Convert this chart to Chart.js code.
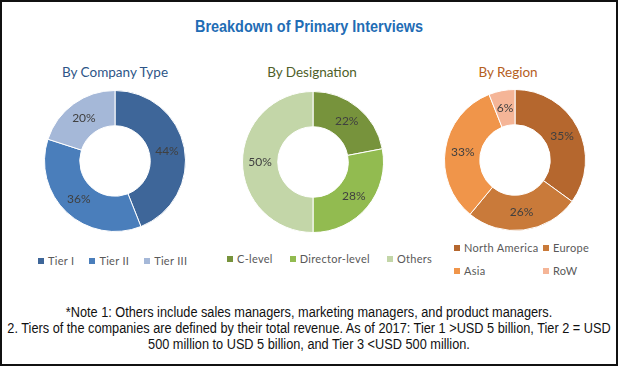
<!DOCTYPE html>
<html>
<head>
<meta charset="utf-8">
<script src="https://cdn.jsdelivr.net/npm/chart.js@4.4.1/dist/chart.umd.min.js"></script>
<style>
  body { margin: 0; background: #fff; }
  #frame {
    position: relative; width: 618px; height: 366px; box-sizing: border-box;
    border: 2px solid #111; background: #fff; overflow: hidden;
    font-family: "Lato", "Open Sans", sans-serif;
  }
  #title {
    position: absolute; left: -200px; width: 1014px; top: 15px; text-align: center;
    font-family: "Liberation Sans", Arial, sans-serif; white-space: nowrap;
    font-weight: bold; font-size: 17px; color: #1f6db5;
    transform: scaleX(0.85); transform-origin: 507px 0;
  }
  .sub { position: absolute; top: 62px; width: 200px; text-align: center; font-size: 13.5px; }
  canvas { position: absolute; }
  .legend { position: absolute; display: flex; font-size: 11px; color: #595959; letter-spacing: 0.3px; }
  .legend .item { display: flex; align-items: center; white-space: nowrap; }
  .legend .box { width: 6px; height: 6px; margin-right: 4px; }
  #notes {
    position: absolute; left: -200px; width: 1014px; top: 302px; text-align: center;
    font-family: "Liberation Sans", Arial, sans-serif; white-space: nowrap;
    font-size: 14px; line-height: 16px; color: #111;
    transform: scaleX(0.91); transform-origin: 507px 0;
  }
</style>
</head>
<body>
<div id="frame">
  <div id="title">Breakdown of Primary Interviews</div>
  <div class="sub" style="left:13px;color:#2d5587">By Company Type</div>
  <div class="sub" style="left:210px;color:#4f5f2a">By Designation</div>
  <div class="sub" style="left:406px;color:#b5601e">By Region</div>
  <canvas id="company" width="150" height="150" style="left:38px;top:84px"></canvas>
  <canvas id="designation" width="150" height="150" style="left:236px;top:85px"></canvas>
  <canvas id="region" width="150" height="150" style="left:438px;top:83px"></canvas>
  <div class="legend" id="legCompany" style="left:36px;top:252px;gap:15px"></div>
  <div class="legend" id="legDesignation" style="left:225px;top:250px;gap:17px"></div>
  <div class="legend" id="legRegion" style="left:452px;top:239px;display:grid;grid-template-columns:89px 60px;row-gap:10px"></div>
  <div id="notes">*Note 1: Others include sales managers, marketing managers, and product managers.<br>2. Tiers of the companies are defined by their total revenue. As of 2017: Tier 1 &gt;USD 5 billion, Tier 2 = USD<br>500 million to USD 5 billion, and Tier 3 &lt;USD 500 million.</div>
</div>
<script>
const companyLabels = ["Tier I", "Tier II", "Tier III"];
const companyValues = [44, 36, 20];
const designationLabels = ["C-level", "Director-level", "Others"];
const designationValues = [22, 28, 50];
const regionLabels = ["North America", "Europe", "Asia", "RoW"];
const regionValues = [35, 26, 33, 6];

const companyColors = ["#3e6699", "#4a7ebb", "#a5b8d8"];
const designationColors = ["#77933c", "#92bb50", "#c3d6a8"];
const regionColors = ["#b5672e", "#c97a3a", "#f0954a", "#f5b597"];

// draws "44%" etc. in the middle of each ring segment
const sliceLabels = {
  id: "sliceLabels",
  afterDatasetsDraw(chart) {
    const ctx = chart.ctx;
    const values = chart.data.datasets[0].data;
    ctx.save();
    ctx.font = "12px Lato, 'Open Sans', sans-serif";
    ctx.fillStyle = "#404040";
    ctx.textAlign = "center";
    ctx.textBaseline = "middle";
    chart.getDatasetMeta(0).data.forEach((arc, i) => {
      const p = arc.tooltipPosition();
      ctx.fillText(values[i] + "%", p.x, p.y);
    });
    ctx.restore();
  }
};

function makeDonut(id, labels, values, colors) {
  return new Chart(document.getElementById(id).getContext("2d"), {
    type: "doughnut",
    data: {
      labels: labels,
      datasets: [{
        data: values,
        backgroundColor: colors,
        borderColor: "#fff",
        borderWidth: 1
      }]
    },
    options: {
      responsive: false,
      animation: false,
      cutout: "50%",
      layout: { padding: 4 },
      plugins: {
        legend: { display: false },
        tooltip: { enabled: false }
      }
    },
    plugins: [sliceLabels]
  });
}

function makeLegend(id, labels, colors) {
  const el = document.getElementById(id);
  labels.forEach((label, i) => {
    const item = document.createElement("div");
    item.className = "item";
    item.innerHTML = `<span class="box" style="background:${colors[i]}"></span>${label}`;
    el.appendChild(item);
  });
}

makeDonut("company", companyLabels, companyValues, companyColors);
makeDonut("designation", designationLabels, designationValues, designationColors);
makeDonut("region", regionLabels, regionValues, regionColors);

makeLegend("legCompany", companyLabels, companyColors);
makeLegend("legDesignation", designationLabels, designationColors);
makeLegend("legRegion", regionLabels, regionColors);
</script>
</body>
</html>
